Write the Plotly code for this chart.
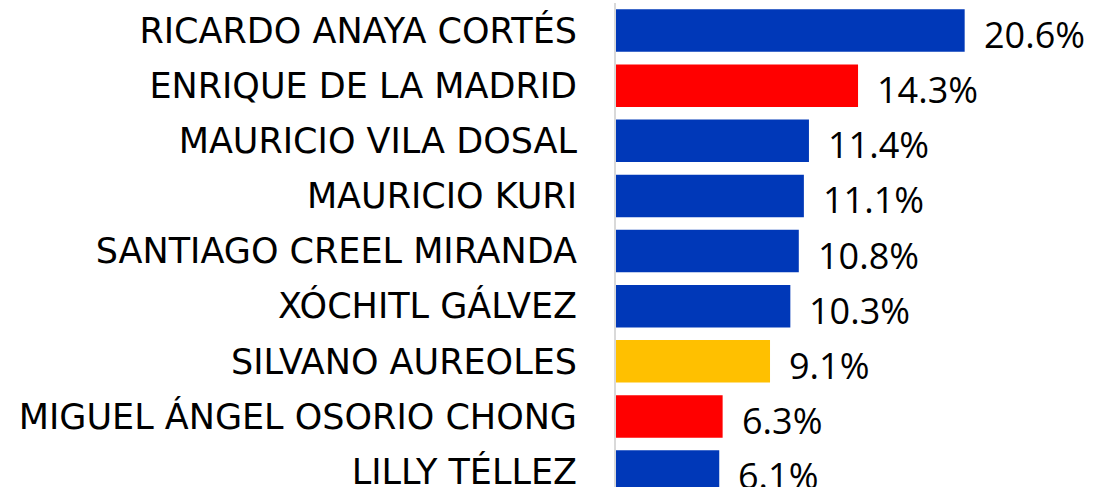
import plotly.graph_objects as go

names = ["RICARDO ANAYA CORTÉS", "ENRIQUE DE LA MADRID", "MAURICIO VILA DOSAL",
         "MAURICIO KURI", "SANTIAGO CREEL MIRANDA", "XÓCHITL GÁLVEZ",
         "SILVANO AUREOLES", "MIGUEL ÁNGEL OSORIO CHONG", "LILLY TÉLLEZ"]
values = [20.6, 14.3, 11.4, 11.1, 10.8, 10.3, 9.1, 6.3, 6.1]
colors = ["#0038B8", "#FF0000", "#0038B8", "#0038B8", "#0038B8", "#0038B8",
          "#FFC000", "#FF0000", "#0038B8"]

fig = go.Figure(go.Bar(
    x=values, y=names, orientation="h",
    marker=dict(color=colors, line=dict(width=0)),
    hoverinfo="skip",
))

for n, v in zip(names, values):
    fig.add_annotation(x=v, y=n, text=f"{v:.1f}%", showarrow=False,
                       xanchor="left", xshift=17, yshift=-4,
                       font=dict(family="Open Sans", size=36, color="#000000"))

fig.update_layout(
    width=1095, height=487,
    margin=dict(l=616, r=0, t=3, b=0, autoexpand=False),
    paper_bgcolor="white", plot_bgcolor="white",
    bargap=0.23, showlegend=False,
    font=dict(family="DejaVu Sans", color="#000000"),
)
fig.update_xaxes(range=[0, 28.3], visible=False, automargin=False)
fig.update_yaxes(range=[8.28, -0.5], showline=True, linecolor="#D9D9D9", linewidth=2,
                 showgrid=False, ticks="", ticklabelstandoff=30, automargin=False,
                 tickfont=dict(family="DejaVu Sans", size=35, color="#000000"))

fig.write_html("out.html", config={"displayModeBar": False},
               post_script="document.body.style.margin='0';document.body.style.overflow='hidden';")
